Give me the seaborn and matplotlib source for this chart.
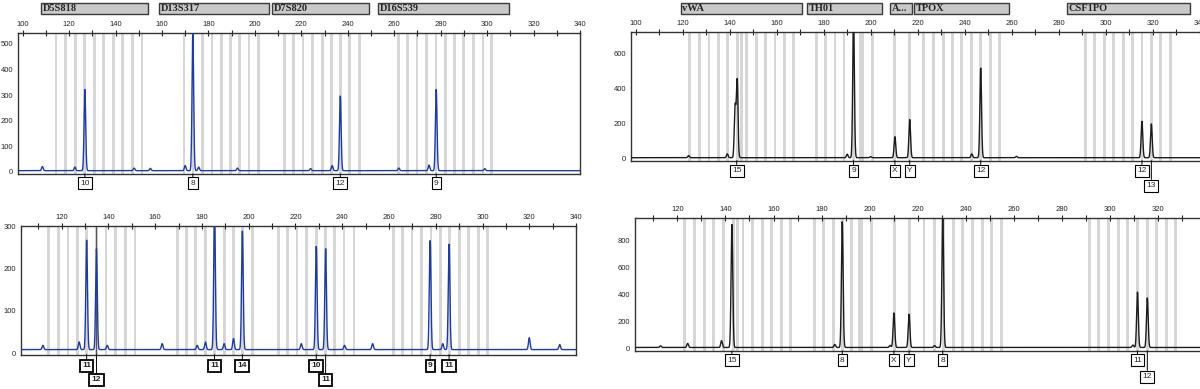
import numpy as np
import pandas as pd
import matplotlib.pyplot as plt
import matplotlib.transforms as mtransforms
from matplotlib.patches import Rectangle
from matplotlib.ticker import MultipleLocator
import seaborn as sns

sns.set_style("white")
plt.rcParams['font.family'] = ['Liberation Sans', 'DejaVu Sans']

# --- loci and allele bins ---------------------------------------------------
left_loci = ["D5S818", "D13S317", "D7S820", "D16S539"]
left_loci_start = [107.9, 158.7, 207.5, 253.0]
left_loci_end = [154.0, 206.0, 249.0, 309.6]

right_loci = ["vWA", "TH01", "A...", "TPOX", "CSF1PO"]
right_loci_start = [119.1, 173.0, 208.4, 218.6, 283.4]
right_loci_end = [170.9, 205.0, 217.7, 258.9, 335.9]

left_bins = [114.4, 118.6, 122.7, 126.8, 130.8, 134.9, 139.0, 143.1, 147.3, 151.4,
             169.5, 173.4, 177.4, 181.5, 185.5, 189.6, 193.5, 197.5, 201.6,
             212.8, 216.6, 220.7, 224.8, 229.0, 233.0, 236.8, 240.8, 245.0,
             262.0, 265.8, 269.8, 273.8, 278.0, 282.0, 286.0, 290.0, 294.0, 298.2, 302.0]
right_bins = [123.0, 127.2, 131.2, 135.2, 139.2, 143.2, 145.2, 147.3, 151.3, 155.3, 159.3, 163.3, 167.2,
              176.9, 180.9, 184.8, 188.6, 192.6, 195.6, 196.6, 200.7,
              210.2, 216.6,
              222.6, 226.8, 230.8, 234.8, 238.7, 242.9, 246.8, 250.8, 254.9,
              291.4, 295.3, 299.3, 303.4, 307.4, 311.4, 315.4, 319.4, 323.4, 327.4]

# --- peaks (size in bp, height in RFU) --------------------------------------
tl_peak_pos = [126.8, 173.3, 236.8, 278.1,
               108.5, 122.5, 148.0, 155.0, 170.0, 175.8, 192.5, 224.0, 233.3, 262.0, 275.0, 299.0]
tl_peak_h = [318, 545, 292, 318,
             16, 14, 10, 9, 20, 14, 10, 8, 20, 10, 22, 8]

bl_peak_pos = [130.7, 134.9, 185.4, 197.3, 228.9, 232.9, 277.6, 285.7,
               112.0, 127.5, 139.5, 163.0, 178.0, 181.5, 189.5, 193.5, 222.5, 241.0, 253.0, 283.0, 320.0, 333.0]
bl_peak_h = [258, 238, 330, 280, 243, 238, 258, 249,
             10, 18, 10, 14, 10, 18, 14, 26, 14, 10, 14, 14, 28, 12]

tr_peak_pos = [142.3, 143.2, 192.7, 210.3, 216.6, 246.8, 315.4, 319.4,
               122.5, 139.0, 190.0, 200.0, 243.0, 262.0]
tr_peak_h = [290, 440, 800, 120, 218, 510, 207, 192,
             12, 22, 20, 6, 22, 8]

br_peak_pos = [142.7, 188.6, 210.1, 216.4, 230.4, 311.4, 315.5,
               113.0, 124.3, 138.4, 185.5, 208.5, 227.0, 309.5]
br_peak_h = [905, 925, 255, 245, 1000, 410, 365,
             12, 30, 50, 22, 15, 14, 18]

# --- allele calls -----------------------------------------------------------
tl_allele = ["10", "8", "12", "9"]
tl_allele_pos = [126.8, 173.3, 236.8, 278.1]
tl_allele_row = [0, 0, 0, 0]

bl_allele = ["11", "12", "11", "14", "10", "11", "9", "11"]
bl_allele_pos = [130.7, 134.9, 185.4, 197.3, 228.9, 232.9, 277.6, 285.7]
bl_allele_row = [0, 1, 0, 0, 0, 1, 0, 0]

tr_allele = ["15", "9", "X", "Y", "12", "12", "13"]
tr_allele_pos = [143.0, 192.7, 210.3, 216.6, 246.8, 315.4, 319.4]
tr_allele_row = [0, 0, 0, 0, 0, 0, 1]

br_allele = ["15", "8", "X", "Y", "8", "11", "12"]
br_allele_pos = [142.7, 188.6, 210.1, 216.4, 230.4, 311.4, 315.5]
br_allele_row = [0, 0, 0, 0, 0, 0, 1]

BLUE = "#1e3c9e"
DARK = "#1c1c1c"
BIN = "#d6d6d6"


def trace(x0, x1, pos, h, base):
    x = np.linspace(x0, x1, 3000)
    y = np.full_like(x, base)
    for p, a in zip(pos, h):
        y += a * np.exp(-0.5 * ((x - p) / 0.35) ** 2)
    return pd.DataFrame({"size": x, "rfu": y})


def panel(rect, xlim, ylim, ymaj, ymin, pos, h, base, color, bins):
    ax = fig.add_axes(rect)
    for b in bins:
        ax.axvspan(b - 0.6, b + 0.6, color=BIN, lw=0, zorder=0)
    df = trace(xlim[0], xlim[1] + 5, pos, h, base)
    sns.lineplot(data=df, x="size", y="rfu", ax=ax, color=color, lw=1.0,
                 estimator=None, sort=False, zorder=3)
    ax.set_xlim(*xlim)
    ax.set_ylim(*ylim)
    ax.set_xlabel("")
    ax.set_ylabel("")
    ax.xaxis.set_major_locator(MultipleLocator(20))
    ax.xaxis.set_minor_locator(MultipleLocator(10))
    ax.yaxis.set_major_locator(MultipleLocator(ymaj))
    ax.yaxis.set_minor_locator(MultipleLocator(ymin))
    ax.xaxis.set_ticks_position("top")
    ax.tick_params(axis="x", which="both", direction="inout", length=4, width=0.8,
                   labelsize=5.5, pad=1.5, top=True, bottom=False,
                   labeltop=True, labelbottom=False, color="#222222")
    ax.tick_params(axis="y", which="both", direction="inout", length=4, width=0.8,
                   labelsize=5.5, pad=1.5, color="#222222")
    for s in ax.spines.values():
        s.set_color("#333333")
        s.set_linewidth(1.0)
    return ax


def loci_boxes(ax, names, starts, ends, y0, hh):
    tr = mtransforms.blended_transform_factory(ax.transData, ax.transAxes)
    for n, s, e in zip(names, starts, ends):
        ax.add_patch(Rectangle((s, y0), e - s, hh, transform=tr, clip_on=False,
                               fc="#c9c9c9", ec="#3a3a3a", lw=1.0))
        ax.text(s + 0.8, y0 + hh / 2, n, transform=tr, ha="left", va="center",
                fontsize=7.5, fontweight="bold", family=["Liberation Serif", "DejaVu Serif"])


def allele_boxes(ax, labels, xs, rows, d0, d1, bold=False):
    for t, x, r in zip(labels, xs, rows):
        dy = d0 if r == 0 else d1
        ax.annotate(t, xy=(x, 0), xycoords=("data", "axes fraction"),
                    xytext=(0, -dy), textcoords="offset points",
                    ha="center", va="center", fontsize=6,
                    fontweight="bold" if bold else "normal",
                    bbox=dict(boxstyle="square,pad=0.28", fc="white", ec="black",
                              lw=1.3 if bold else 0.8),
                    arrowprops=dict(arrowstyle="-", color="black", lw=0.7,
                                    shrinkA=0, shrinkB=0),
                    annotation_clip=False)


fig = plt.figure(figsize=(12, 3.89), dpi=100)

ax_tl = panel([0.015, 0.5527, 0.4683, 0.3625], (98, 340), (-8, 543), 100, 50,
              tl_peak_pos, tl_peak_h, 5, BLUE, left_bins)
loci_boxes(ax_tl, left_loci, left_loci_start, left_loci_end, 1.135, 0.078)
allele_boxes(ax_tl, tl_allele, tl_allele_pos, tl_allele_row, 6.5, 18)

ax_bl = panel([0.01725, 0.0882, 0.4628, 0.3308], (102.5, 340), (-3, 300), 100, 50,
              bl_peak_pos, bl_peak_h, 9, BLUE, left_bins)
ax_bl.axvline(134.9, color="#555555", lw=0.8, zorder=2)
allele_boxes(ax_bl, bl_allele, bl_allele_pos, bl_allele_row, 8, 18, bold=True)

ax_tr = panel([0.5258, 0.5869, 0.4838, 0.3301], (98, 345), (-10, 720), 200, 100,
              tr_peak_pos, tr_peak_h, 7, DARK, right_bins)
loci_boxes(ax_tr, right_loci, right_loci_start, right_loci_end, 1.146, 0.082)
allele_boxes(ax_tr, tr_allele, tr_allele_pos, tr_allele_row, 7.2, 18)

ax_br = panel([0.5292, 0.0977, 0.486, 0.3411], (102.4, 345), (-17, 960), 200, 100,
              br_peak_pos, br_peak_h, 9, DARK, right_bins)
allele_boxes(ax_br, br_allele, br_allele_pos, br_allele_row, 6.5, 18.5)

fig.savefig("out.png", dpi=100)
